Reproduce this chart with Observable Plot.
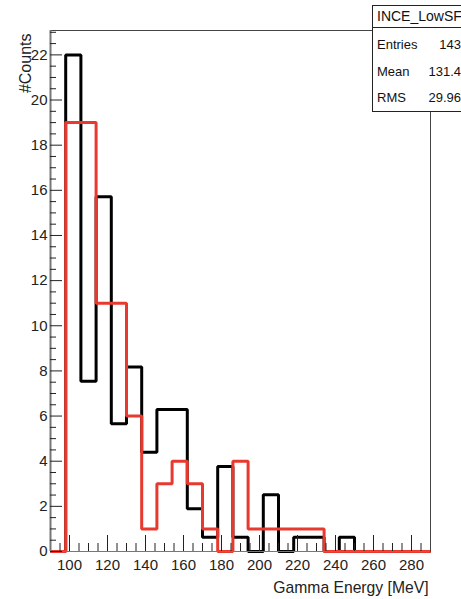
<!DOCTYPE html>
<html>
<head>
<meta charset="utf-8">
<script src="https://cdn.jsdelivr.net/npm/d3@7"></script>
<script src="https://cdn.jsdelivr.net/npm/@observablehq/plot@0.6"></script>
<style>
  html, body { margin: 0; padding: 0; background: #fff; overflow: hidden; }
  #wrap { position: relative; width: 461px; height: 599px; }
  #stats { position: absolute; left: 372px; top: 5px; width: 96px; height: 107px;
    border: 1px solid #222; background: #fff; font-family: "Liberation Sans", Arial, Helvetica, sans-serif;
    font-size: 13px; color: #111; box-sizing: border-box; }
  #stats .hdr { height: 21px; border-bottom: 1px solid #222; padding-left: 4px; line-height: 21px; font-size: 14px; }
  #stats .rows { padding-top: 4px; }
  #stats .row { position: relative; height: 26.5px; line-height: 26.5px; padding-left: 4px; }
  #stats .row span { position: absolute; right: 6px; }
</style>
</head>
<body>
<div id="wrap"></div>
<script>
// Bin edges (MeV), 8 MeV wide
const binEdges = [90, 98, 106, 114, 122, 130, 138, 146, 154, 162, 170, 178, 186, 194, 202, 210, 218, 226, 234, 242, 250, 258, 266, 274, 282, 290];
// Black histogram (bin contents)
const blackCounts = [0, 22, 7.54, 15.71, 5.66, 8.17, 4.4, 6.29, 6.29, 1.89, 0.63, 3.77, 0.63, 0, 2.51, 0, 0.63, 0.63, 0, 0.63, 0, 0, 0, 0, 0];
// Red histogram (bin contents)
const redCounts = [0, 19, 19, 11, 11, 6, 1, 3, 4, 3, 1, 0, 4, 1, 1, 1, 1, 1, 0, 0, 0, 0, 0, 0, 0];
// Axis ticks
const xTicks = [100, 120, 140, 160, 180, 200, 220, 240, 260, 280];
const yTicks = [0, 2, 4, 6, 8, 10, 12, 14, 16, 18, 20, 22];
// Stats box
const statsTitle = "INCE_LowSF";
const statsRows = [["Entries", "143"], ["Mean", "131.4"], ["RMS", "29.96"]];

const W = 461, H = 599;
const mL = 50, mR = 31, mT = 30, mB = 48;
const pw = W - mL - mR, ph = H - mT - mB;

function steps(vals) {
  const pts = vals.map((v, i) => ({x: binEdges[i], y: v}));
  pts.push({x: binEdges[binEdges.length - 1], y: vals[vals.length - 1]});
  return pts;
}

const xMinor = d3.range(95, 290, 5).filter(d => d % 20 !== 0);
const yMinor = d3.range(0.5, 23.1, 0.5).filter(d => d % 2 !== 0);

const font = "Liberation Sans, Arial, Helvetica, sans-serif";

const chart = Plot.plot({
  width: W, height: H,
  marginLeft: mL, marginRight: mR, marginTop: mT, marginBottom: mB,
  style: {fontFamily: font, fontSize: "15px", color: "#222", background: "#fff"},
  x: {domain: [90, 290]},
  y: {domain: [0, 23.08]},
  marks: [
    Plot.frame({stroke: "#444", strokeWidth: 1}),
    Plot.line(steps(blackCounts), {x: "x", y: "y", curve: "step-after", stroke: "#000", strokeWidth: 3, strokeLinejoin: "miter", strokeLinecap: "butt"}),
    Plot.line(steps(redCounts), {x: "x", y: "y", curve: "step-after", stroke: "#e8392f", strokeWidth: 3, strokeLinejoin: "miter", strokeLinecap: "butt"}),
    Plot.ruleX([90], {stroke: "#777", strokeWidth: 2}),
    Plot.ruleY([0], {stroke: "#777", strokeWidth: 1}),
    Plot.tickY(yTicks, {y: d => d, insetRight: pw - 12, stroke: "#222", strokeWidth: 1}),
    Plot.tickY(yMinor, {y: d => d, insetRight: pw - 6, stroke: "#222", strokeWidth: 1}),
    Plot.tickX(xTicks, {x: d => d, insetTop: ph - 16, stroke: "#222", strokeWidth: 1}),
    Plot.tickX(xMinor, {x: d => d, insetTop: ph - 8, stroke: "#222", strokeWidth: 1}),
    Plot.axisX({ticks: xTicks, tickSize: 0, tickPadding: 8, label: null, fontSize: 15, tickFormat: d => String(d)}),
    Plot.axisY({ticks: yTicks, tickSize: 0, tickPadding: 3, label: null, fontSize: 15, tickFormat: d => String(d)}),
    Plot.text(["#Counts"], {frameAnchor: "top-left", text: d => d, rotate: -90, textAnchor: "end", lineAnchor: "middle", dx: -25, dy: 3, fontSize: 16, fill: "#222"}),
    Plot.text(["Gamma Energy [MeV]"], {frameAnchor: "bottom-right", text: d => d, textAnchor: "end", lineAnchor: "middle", dx: -2, dy: 36, fontSize: 15.7, fill: "#222"})
  ]
});

const wrap = document.getElementById("wrap");
wrap.appendChild(chart);

const box = document.createElement("div");
box.id = "stats";
const hdr = document.createElement("div");
hdr.className = "hdr";
hdr.textContent = statsTitle;
box.appendChild(hdr);
const rows = document.createElement("div");
rows.className = "rows";
for (const [k, v] of statsRows) {
  const r = document.createElement("div");
  r.className = "row";
  r.textContent = k;
  const s = document.createElement("span");
  s.textContent = v;
  r.appendChild(s);
  rows.appendChild(r);
}
box.appendChild(rows);
wrap.appendChild(box);
</script>
</body>
</html>
